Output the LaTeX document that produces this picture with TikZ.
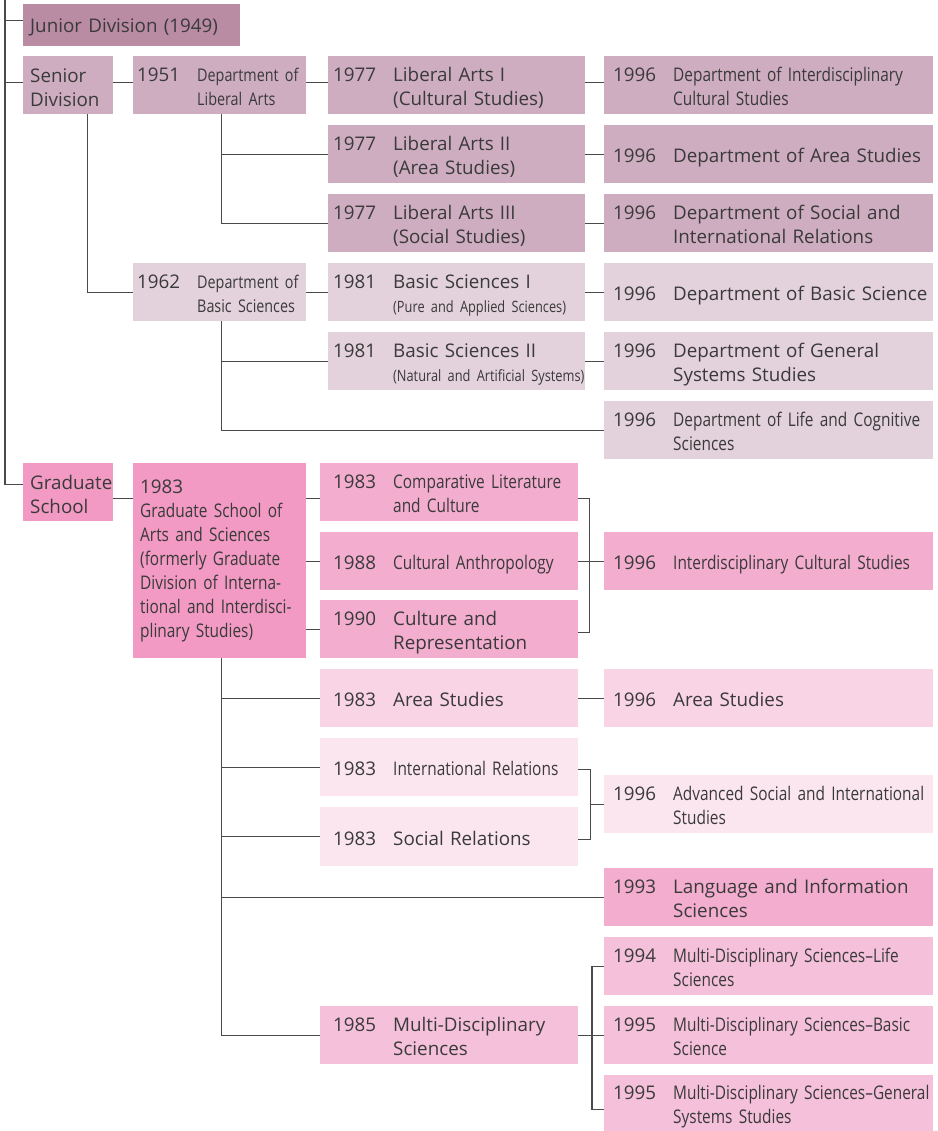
\documentclass[tikz,border=0pt]{standalone}
\usepackage{fontspec, array}
\setmainfont{Open Sans}
\newfontfamily\narrowfont[FakeStretch=0.82]{Open Sans}
\usetikzlibrary{positioning, calc}

\definecolor{mauveD}{HTML}{B98CA4}
\definecolor{mauveM}{HTML}{CEADC0}
\definecolor{mauveL}{HTML}{E3D1DB}
\definecolor{pinkD}{HTML}{F29AC3}
\definecolor{pinkM}{HTML}{F3ADCE}
\definecolor{pinkS}{HTML}{F5C0DA}
\definecolor{pinkL}{HTML}{F8D4E5}
\definecolor{pinkXL}{HTML}{FBE6F0}
\definecolor{txt}{HTML}{3A3A3A}
\definecolor{wire}{HTML}{4A4A4A}

\newcommand\bigf{\fontsize{18.8}{24}\selectfont}
\newcommand\medf{\fontsize{17.5}{24}\selectfont\narrowfont}
\newcommand\smf{\fontsize{15.6}{24}\selectfont\narrowfont}
% year, then the name in lines
\newcommand\ent[2]{\makebox[60pt][l]{\rule{0pt}{24pt}#1}\begin{tabular}[t]{@{}l@{}}#2\end{tabular}}
\newcommand\entn[2]{\makebox[60pt][l]{\rule{0pt}{24pt}#1}\begin{tabular}[t]{@{}>{\narrowfont}l@{}}#2\end{tabular}}
\newcommand\entm[2]{\makebox[60pt][l]{\rule{0pt}{24pt}#1}\begin{tabular}[t]{@{}>{\medf}l@{}}#2\end{tabular}}

\tikzset{
    cell/.style={anchor=north west, minimum height=58pt, inner ysep=0pt, text=txt, align=left, font=\bigf},
    lift/.style={execute at begin node={\rule{0pt}{18pt}}},
    colA/.style={cell, lift, inner xsep=7pt, text width=76pt},
    colB/.style={cell, inner xsep=4pt, text width=165pt},
    colC/.style={cell, inner xsep=5pt, text width=247pt},
    colG/.style={cell, inner xsep=13pt, text width=232pt},
    colD/.style={cell, inner xsep=9pt, text width=311pt},
    wire/.style={draw=wire, line width=1.1pt}
}

\begin{document}
\begin{tikzpicture}[x=1pt, y=-1pt]
    \useasboundingbox (0,0) rectangle (937,1131);

    \node[cell, lift, inner xsep=7pt, text width=203pt, minimum height=42pt, fill=mauveD] (jun) at (23,4) {Junior Division (1949)};

    \node[colA, fill=mauveM] (sen) at (23,56) {Senior\\Division};
    \node[colB, fill=mauveM] (lib) at (133,56) {\entm{1951}{Department of\\Liberal Arts}};
    \node[colC, fill=mauveM] (la1) at (328,56) {\ent{1977}{Liberal Arts I\\(Cultural Studies)}};
    \node[colC, fill=mauveM] (la2) at (328,125) {\ent{1977}{Liberal Arts II\\(Area Studies)}};
    \node[colC, fill=mauveM] (la3) at (328,194) {\ent{1977}{Liberal Arts III\\(Social Studies)}};
    \node[colD, fill=mauveM] (dic) at (604,56) {\entn{1996}{Department of Interdisciplinary\\Cultural Studies}};
    \node[colD, fill=mauveM] (das) at (604,125) {\ent{1996}{Department of Area Studies}};
    \node[colD, fill=mauveM] (dsi) at (604,194) {\ent{1996}{Department of Social and\\International Relations}};

    \node[colB, fill=mauveL] (bas) at (133,263) {\entm{1962}{Department of\\Basic Sciences}};
    \node[colC, fill=mauveL] (bs1) at (328,263) {\ent{1981}{Basic Sciences I\\{\smf (Pure and Applied Sciences)}}};
    \node[colC, fill=mauveL] (bs2) at (328,332) {\ent{1981}{Basic Sciences II\\{\smf (Natural and Artificial Systems)}}};
    \node[colD, fill=mauveL] (dbs) at (604,263) {\ent{1996}{Department of Basic Science}};
    \node[colD, fill=mauveL] (dgs) at (604,332) {\ent{1996}{Department of General\\Systems Studies}};
    \node[colD, fill=mauveL] (dlc) at (604,401) {\entn{1996}{Department of Life and Cognitive\\Sciences}};

    \node[colA, fill=pinkD] (grd) at (23,463) {Graduate\\School};
    \node[cell, inner xsep=7pt, text width=159pt, minimum height=195pt, fill=pinkD] (gsa) at (133,463)
        {1983\\{\narrowfont Graduate School of\\Arts and Sciences\\(formerly Graduate\\Division of Interna-\\tional and Interdisci-\\plinary Studies)}};
    \node[colG, fill=pinkM] (cl) at (320,463) {\entn{1983}{Comparative Literature\\and Culture}};
    \node[colG, fill=pinkM] (ca) at (320,532) {\entn{1988}{Cultural Anthropology}};
    \node[colG, fill=pinkM] (cr) at (320,600) {\ent{1990}{Culture and\\Representation}};
    \node[colD, fill=pinkM] (ics) at (604,532) {\entn{1996}{Interdisciplinary Cultural Studies}};

    \node[colG, fill=pinkL] (as) at (320,669) {\ent{1983}{Area Studies}};
    \node[colD, fill=pinkL] (das2) at (604,669) {\ent{1996}{Area Studies}};
    \node[colG, fill=pinkXL] (ir) at (320,738) {\entn{1983}{International Relations}};
    \node[colG, fill=pinkXL, minimum height=59pt] (sr) at (320,807) {\ent{1983}{Social Relations}};
    \node[colD, fill=pinkXL] (asi) at (604,775) {\entn{1996}{Advanced Social and International\\Studies}};
    \node[colD, fill=pinkM] (lis) at (604,868) {\ent{1993}{Language and Information\\Sciences}};

    \node[colG, fill=pinkS] (md) at (320,1006) {\ent{1985}{Multi-Disciplinary\\Sciences}};
    \node[colD, fill=pinkS] (mdl) at (604,937) {\entn{1994}{Multi-Disciplinary Sciences–Life\\Sciences}};
    \node[colD, fill=pinkS] (mdb) at (604,1006) {\entn{1995}{Multi-Disciplinary Sciences–Basic\\Science}};
    \node[colD, fill=pinkS, minimum height=56pt] (mdg) at (604,1075) {\entn{1995}{Multi-Disciplinary Sciences–General\\Systems Studies}};

    % trunk and branches
    \coordinate (top) at (5,0);
    \draw[wire] (top) |- ([yshift=5pt]jun.west);
    \draw[wire] (top) |- ([yshift=3pt]sen.west);
    \draw[wire] (top) |- ([yshift=8pt]grd.west);

    \draw[wire] ([yshift=3pt]sen.east) -- ([yshift=3pt]lib.west);
    \draw[wire] ([yshift=3pt]lib.east) -- ([yshift=3pt]la1.west);
    \draw[wire] ([yshift=3pt]la1.east) -- ([yshift=3pt]dic.west);
    \draw[wire] ([xshift=1.5pt]lib.south) |- (la2.west);
    \draw[wire] ([xshift=1.5pt]lib.south) |- (la3.west);
    \draw[wire] (la2.east) -- (das.west);
    \draw[wire] (la3.east) -- (dsi.west);

    \draw[wire] ([xshift=19pt]sen.south) |- (bas.west);
    \draw[wire] (bas.east) -- (bs1.west);
    \draw[wire] (bs1.east) -- (dbs.west);
    \draw[wire] ([xshift=1.5pt]bas.south) |- (bs2.west);
    \draw[wire] ([xshift=1.5pt]bas.south) |- (dlc.west);
    \draw[wire] (bs2.east) -- (dgs.west);

    \coordinate (cla) at ([yshift=-6pt]cl.west);
    \draw[wire] (grd.east |- cla) -- (gsa.west |- cla);
    \draw[wire] (gsa.east |- cla) -- (cla);
    \draw[wire] (gsa.east |- ca.west) -- (ca.west);
    \draw[wire] (gsa.east |- cr.west) -- (cr.west);
    \draw[wire] ([yshift=-6pt]cl.east) -- ++(11,0) |- ([yshift=-3pt]cr.east);
    \draw[wire] (ca.east) -- (ics.west);

    \draw[wire] ([xshift=1.5pt]gsa.south) |- (md.west);
    \draw[wire] ([xshift=1.5pt]gsa.south) |- (as.west);
    \draw[wire] ([xshift=1.5pt]gsa.south) |- (ir.west);
    \draw[wire] ([xshift=1.5pt]gsa.south) |- (sr.west);
    \draw[wire] ([xshift=1.5pt]gsa.south) |- (lis.west);
    \draw[wire] (as.east) -- (das2.west);

    \draw[wire] ([yshift=-2pt]ir.east) -- ++(12,0) coordinate (irk) |- ([yshift=-3pt]sr.east);
    \draw[wire] (irk |- asi.west) -- (asi.west);

    \draw[wire] (mdl.west) -- ++(-12,0) coordinate (mdk) |- ([yshift=-6pt]mdg.west);
    \draw[wire] (md.east) -- (mdb.west);
\end{tikzpicture}
\end{document}
